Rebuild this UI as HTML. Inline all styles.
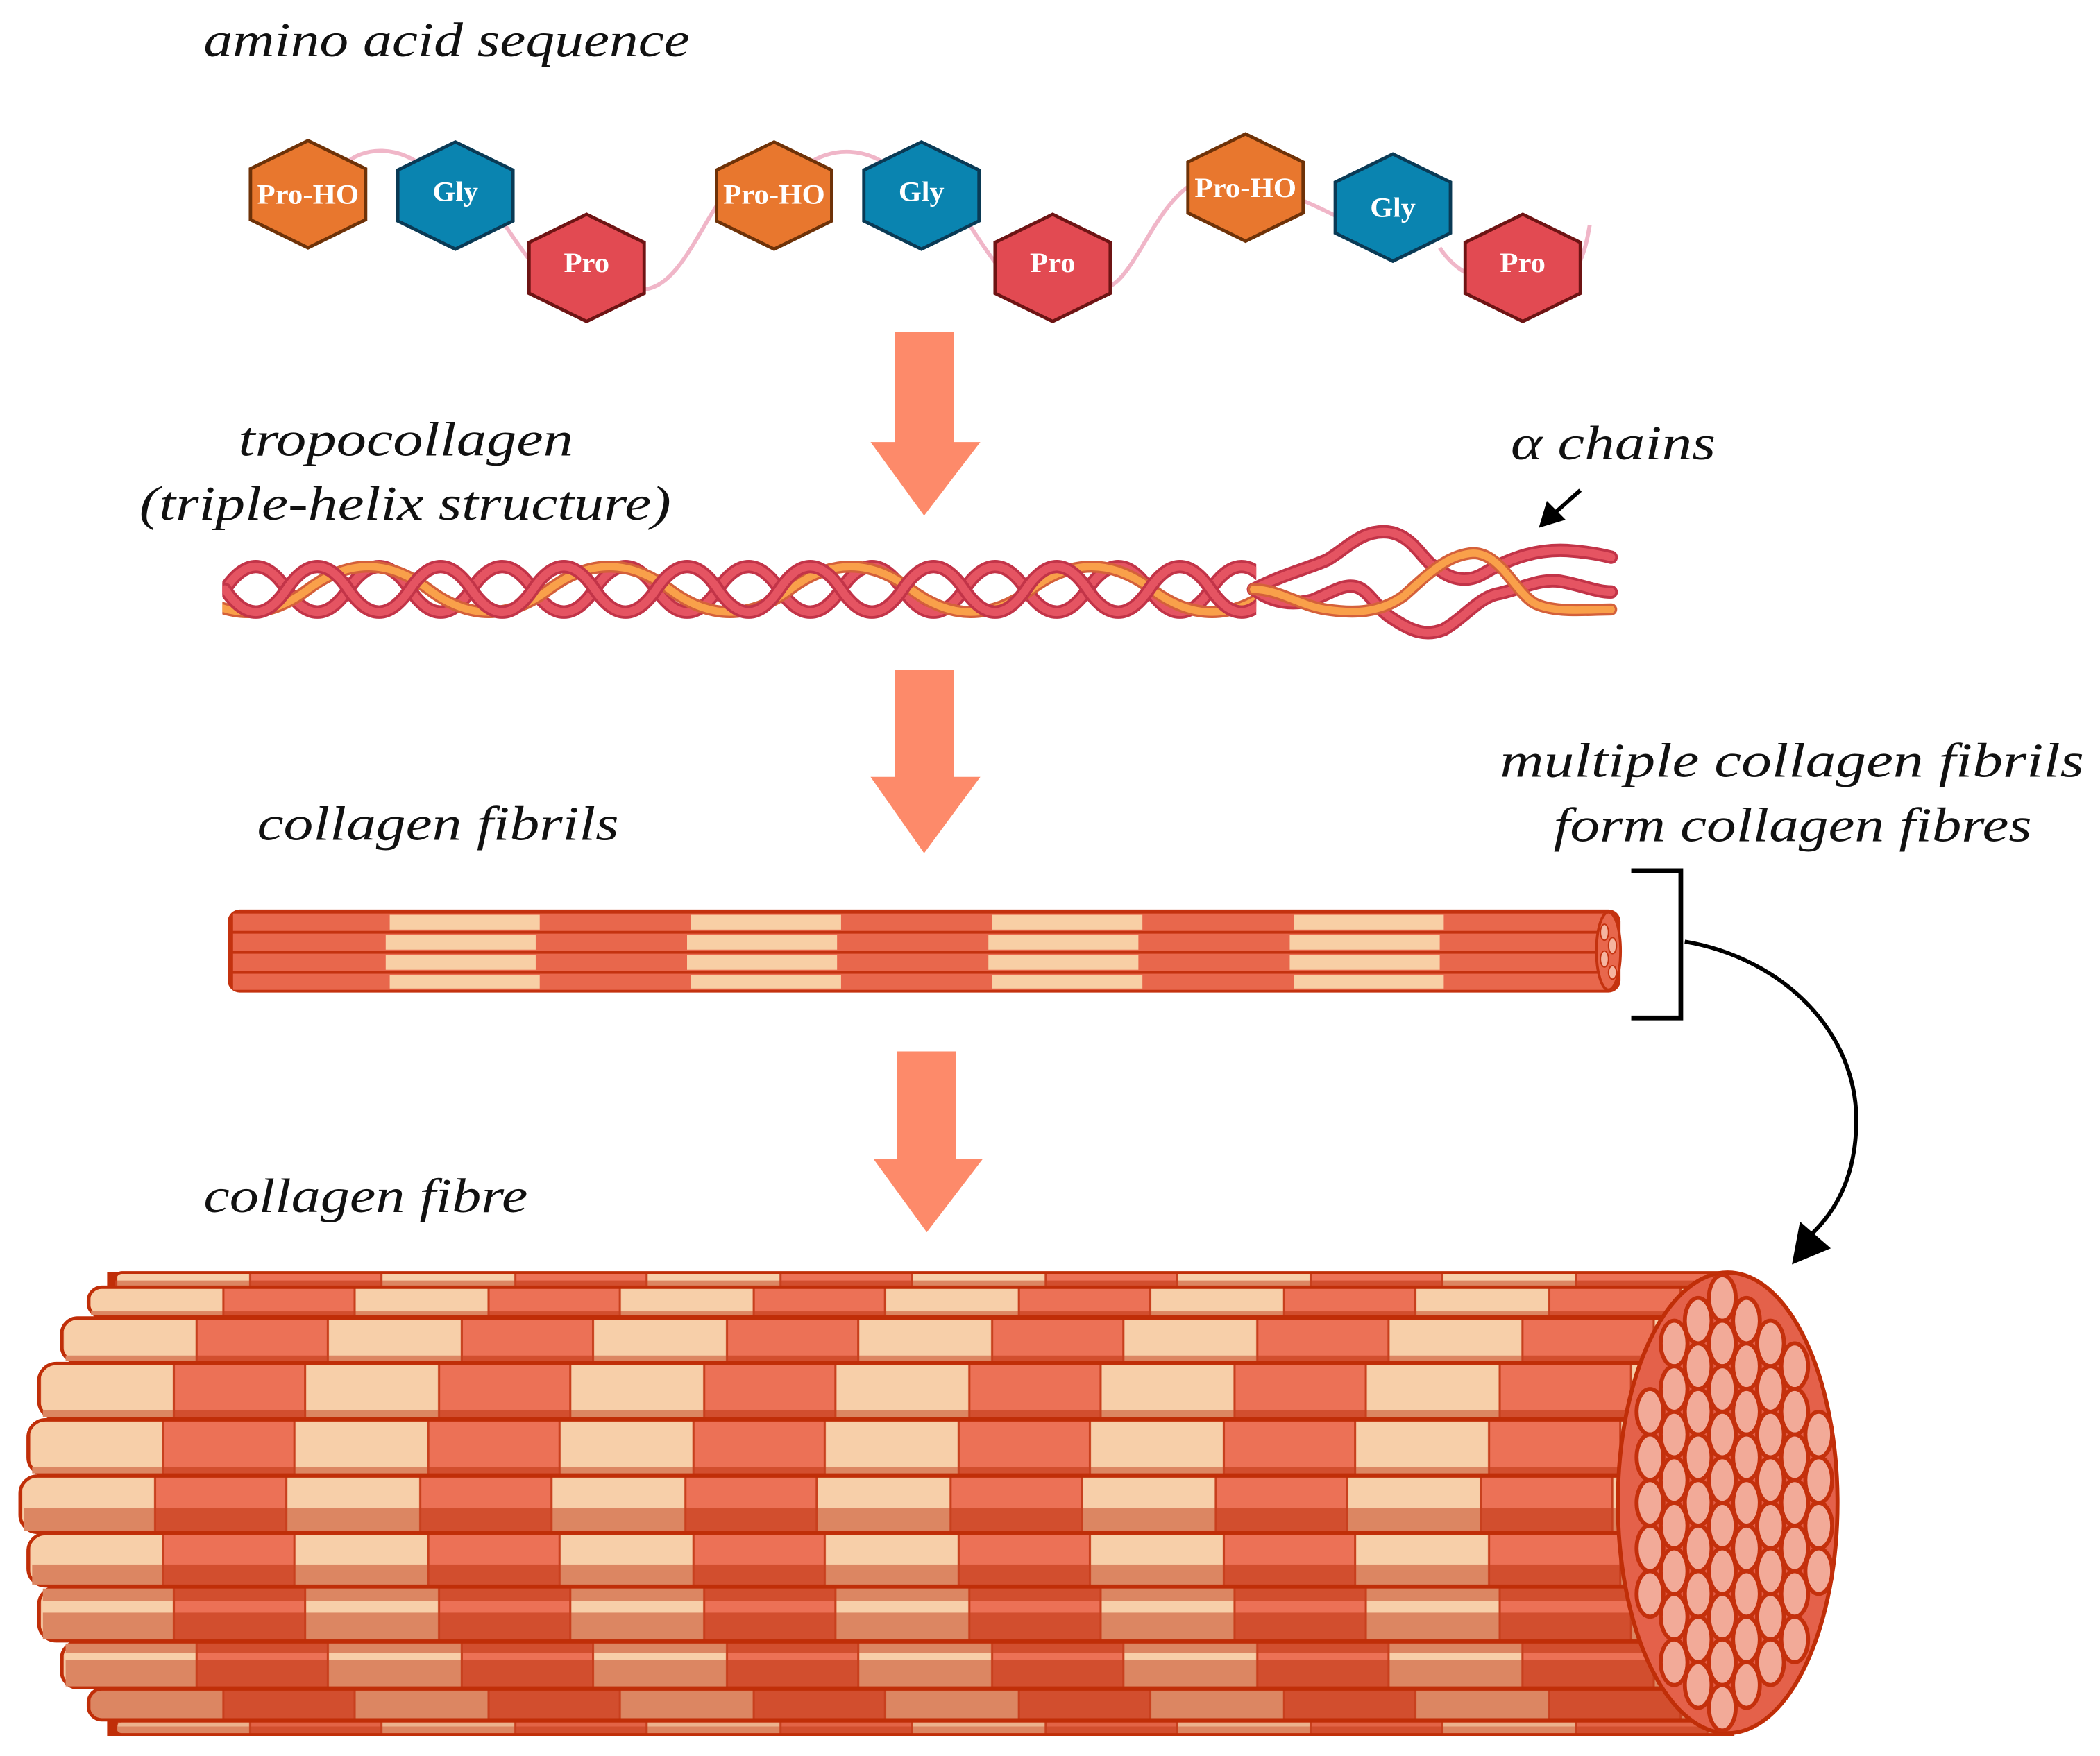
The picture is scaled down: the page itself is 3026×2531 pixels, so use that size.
<!DOCTYPE html>
<html><head><meta charset="utf-8"><style>
html,body{margin:0;padding:0;background:#fff;}
svg{display:block;}
text{font-family:"Liberation Serif",serif;}
.lbl{font-style:italic;font-size:36px;fill:#111;}
.hx{font-weight:bold;font-size:21px;fill:#fff;text-anchor:middle;}
</style></head><body>
<svg width="3026" height="2531" viewBox="0 0 1568 1311" preserveAspectRatio="none" xmlns="http://www.w3.org/2000/svg">
<defs>
<polygon id="hex" points="0,-40 43,-19 43,19 0,40 -43,19 -43,-19"/>
<pattern id="pl" width="198" height="2000" patternUnits="userSpaceOnUse">
<rect x="0" y="0" width="101" height="2000" fill="#f7cfa9"/>
<rect x="101" y="0" width="97" height="2000" fill="#ec7156"/>
<rect x="100" y="0" width="1.6" height="2000" fill="#c8401e"/>
<rect x="0" y="0" width="1.6" height="2000" fill="#c8401e"/>
</pattern>
<pattern id="pd" width="198" height="2000" patternUnits="userSpaceOnUse">
<rect x="0" y="0" width="101" height="2000" fill="#dc8662"/>
<rect x="101" y="0" width="97" height="2000" fill="#d24e2e"/>
<rect x="100" y="0" width="1.6" height="2000" fill="#c8401e"/>
<rect x="0" y="0" width="1.6" height="2000" fill="#c8401e"/>
</pattern>
<clipPath id="hc"><rect x="166" y="380" width="772" height="120"/></clipPath>
</defs>

<text class="lbl" x="152" y="42" textLength="363" lengthAdjust="spacingAndGlyphs">amino acid sequence</text>
<text class="lbl" x="178" y="340" textLength="250" lengthAdjust="spacingAndGlyphs">tropocollagen</text>
<text class="lbl" x="104" y="388" textLength="397" lengthAdjust="spacingAndGlyphs">(triple-helix structure)</text>
<text class="lbl" x="1128" y="343" textLength="153" lengthAdjust="spacingAndGlyphs">α chains</text>
<text class="lbl" x="1120" y="580" textLength="436" lengthAdjust="spacingAndGlyphs">multiple collagen fibrils</text>
<text class="lbl" x="1160" y="628" textLength="357" lengthAdjust="spacingAndGlyphs">form collagen fibres</text>
<text class="lbl" x="192" y="627" textLength="270" lengthAdjust="spacingAndGlyphs">collagen fibrils</text>
<text class="lbl" x="152" y="905" textLength="242" lengthAdjust="spacingAndGlyphs">collagen fibre</text>

<path d="M255,125 C270,108 300,108 320,128 M375,165 C385,180 392,190 400,200 M470,215 C505,225 520,170 545,140 M600,125 C620,108 650,110 668,128 M722,165 C735,185 742,195 750,205 M820,215 C845,220 860,150 895,135 M960,145 C975,150 985,155 1005,165 M1075,185 C1085,200 1095,205 1110,210 M1175,205 C1183,190 1185,180 1187,168" fill="none" stroke="#f0b6c8" stroke-width="3"/>
<g stroke-width="2.5">
<use href="#hex" x="230" y="145" fill="#e8772e" stroke="#6e3208"/>
<use href="#hex" x="340" y="146" fill="#0a84b0" stroke="#0a3a55"/>
<use href="#hex" x="438" y="200" fill="#e24a52" stroke="#6e1414"/>
<use href="#hex" x="578" y="146" fill="#e8772e" stroke="#6e3208"/>
<use href="#hex" x="688" y="146" fill="#0a84b0" stroke="#0a3a55"/>
<use href="#hex" x="786" y="200" fill="#e24a52" stroke="#6e1414"/>
<use href="#hex" x="930" y="140" fill="#e8772e" stroke="#6e3208"/>
<use href="#hex" x="1040" y="155" fill="#0a84b0" stroke="#0a3a55"/>
<use href="#hex" x="1137" y="200" fill="#e24a52" stroke="#6e1414"/>
</g>
<text class="hx" x="230" y="152" textLength="76" lengthAdjust="spacingAndGlyphs">Pro-HO</text>
<text class="hx" x="340" y="150" textLength="34" lengthAdjust="spacingAndGlyphs">Gly</text>
<text class="hx" x="438" y="203" textLength="34" lengthAdjust="spacingAndGlyphs">Pro</text>
<text class="hx" x="578" y="152" textLength="76" lengthAdjust="spacingAndGlyphs">Pro-HO</text>
<text class="hx" x="688" y="150" textLength="34" lengthAdjust="spacingAndGlyphs">Gly</text>
<text class="hx" x="786" y="203" textLength="34" lengthAdjust="spacingAndGlyphs">Pro</text>
<text class="hx" x="930" y="147" textLength="76" lengthAdjust="spacingAndGlyphs">Pro-HO</text>
<text class="hx" x="1040" y="162" textLength="34" lengthAdjust="spacingAndGlyphs">Gly</text>
<text class="hx" x="1137" y="203" textLength="34" lengthAdjust="spacingAndGlyphs">Pro</text>

<g fill="#fd8a6a">
<polygon points="668,248 712,248 712,330 732,330 690,385 650,330 668,330"/>
<polygon points="668,500 712,500 712,580 732,580 690,637 650,580 668,580"/>
<polygon points="670,785 714,785 714,865 734,865 692,920 652,865 670,865"/>
</g>

<line x1="1180" y1="366" x2="1162" y2="382" stroke="#000" stroke-width="3"/>
<polygon points="1149,394 1155,374 1169,388" fill="#000"/>

<g fill="none" stroke-linecap="round">
<g clip-path="url(#hc)">
<path d="M168,440 q23,-34 46,0 t46,0 t46,0 t46,0 t46,0 t46,0 t46,0 t46,0 t46,0 t46,0 t46,0 t46,0 t46,0 t46,0 t46,0 t46,0 t46,0 t46,0" stroke="#c23448" stroke-width="10"/>
<path d="M168,440 q23,-34 46,0 t46,0 t46,0 t46,0 t46,0 t46,0 t46,0 t46,0 t46,0 t46,0 t46,0 t46,0 t46,0 t46,0 t46,0 t46,0 t46,0 t46,0" stroke="#e55462" stroke-width="6"/>
<path d="M140,440 q45,34 90,0 t90,0 t90,0 t90,0 t90,0 t90,0 t90,0 t90,0 t90,0" stroke="#d4603a" stroke-width="9"/>
<path d="M140,440 q45,34 90,0 t90,0 t90,0 t90,0 t90,0 t90,0 t90,0 t90,0 t90,0" stroke="#f9a04a" stroke-width="5.5"/>
<path d="M168,440 q23,34 46,0 t46,0 t46,0 t46,0 t46,0 t46,0 t46,0 t46,0 t46,0 t46,0 t46,0 t46,0 t46,0 t46,0 t46,0 t46,0 t46,0 t46,0" stroke="#c23448" stroke-width="10"/>
<path d="M168,440 q23,34 46,0 t46,0 t46,0 t46,0 t46,0 t46,0 t46,0 t46,0 t46,0 t46,0 t46,0 t46,0 t46,0 t46,0 t46,0 t46,0 t46,0 t46,0" stroke="#e55462" stroke-width="6"/>
</g>
<path d="M936,440 C960,428 978,424 991,418 C1005,410 1015,397 1033,397 C1055,397 1062,420 1073,424 C1082,432 1095,436 1108,428 C1130,415 1150,410 1170,411 C1185,412 1195,414 1203,416" stroke="#c23448" stroke-width="10"/>
<path d="M936,440 C960,428 978,424 991,418 C1005,410 1015,397 1033,397 C1055,397 1062,420 1073,424 C1082,432 1095,436 1108,428 C1130,415 1150,410 1170,411 C1185,412 1195,414 1203,416" stroke="#e55462" stroke-width="6"/>
<path d="M936,440 C950,450 965,452 980,448 C995,442 1003,436 1012,438 C1022,440 1028,455 1040,462 C1055,472 1065,475 1078,470 C1095,460 1105,445 1120,443 C1140,438 1150,432 1165,434 C1182,437 1192,442 1203,442" stroke="#c23448" stroke-width="10"/>
<path d="M936,440 C950,450 965,452 980,448 C995,442 1003,436 1012,438 C1022,440 1028,455 1040,462 C1055,472 1065,475 1078,470 C1095,460 1105,445 1120,443 C1140,438 1150,432 1165,434 C1182,437 1192,442 1203,442" stroke="#e55462" stroke-width="6"/>
<path d="M936,440 C955,440 970,452 990,455 C1010,458 1030,458 1048,445 C1065,430 1080,414 1100,413 C1120,413 1130,440 1145,450 C1160,458 1185,455 1203,455" stroke="#d4603a" stroke-width="9"/>
<path d="M936,440 C955,440 970,452 990,455 C1010,458 1030,458 1048,445 C1065,430 1080,414 1100,413 C1120,413 1130,440 1145,450 C1160,458 1185,455 1203,455" stroke="#f9a04a" stroke-width="5.5"/>
</g>

<rect x="170" y="679" width="1040" height="62" rx="9" fill="#c4320f"/>
<g>
<rect x="174" y="682" width="1030" height="13" fill="#e8674c"/>
<rect x="174" y="697" width="1030" height="13" fill="#e8674c"/>
<rect x="174" y="712" width="1030" height="13" fill="#e8674c"/>
<rect x="174" y="727" width="1030" height="12" fill="#e8674c"/>
<g fill="#f8cfa5">
<rect x="291" y="683" width="112" height="11"/><rect x="288" y="698" width="112" height="11"/><rect x="288" y="713" width="112" height="11"/><rect x="291" y="728" width="112" height="10"/>
<rect x="516" y="683" width="112" height="11"/><rect x="513" y="698" width="112" height="11"/><rect x="513" y="713" width="112" height="11"/><rect x="516" y="728" width="112" height="10"/>
<rect x="741" y="683" width="112" height="11"/><rect x="738" y="698" width="112" height="11"/><rect x="738" y="713" width="112" height="11"/><rect x="741" y="728" width="112" height="10"/>
<rect x="966" y="683" width="112" height="11"/><rect x="963" y="698" width="112" height="11"/><rect x="963" y="713" width="112" height="11"/><rect x="966" y="728" width="112" height="10"/>
</g>
</g>
<ellipse cx="1201" cy="710" rx="9" ry="29" fill="#e8674c" stroke="#c4320f" stroke-width="2"/>
<g fill="#f5b5a0" stroke="#c4320f" stroke-width="1"><ellipse cx="1198" cy="696" rx="3" ry="6"/><ellipse cx="1204" cy="706" rx="3" ry="6"/><ellipse cx="1198" cy="716" rx="3" ry="6"/><ellipse cx="1204" cy="726" rx="3" ry="5"/></g>

<polyline points="1218,650 1255,650 1255,760 1218,760" fill="none" stroke="#000" stroke-width="3.5"/>
<path d="M1258,703 C1330,715 1388,770 1386,840 C1385,880 1370,905 1352,922" fill="none" stroke="#000" stroke-width="3"/>
<polygon points="1338,944 1344,912 1367,932" fill="#000"/>

<path d="M80,950 L1295,950 L1295,1296 L80,1296 Z" fill="#c02e08"/>
<g>
<g transform="translate(86,0)"><rect x="0" y="950" width="1204" height="11" rx="5" fill="url(#pl)" stroke="#c02e08" stroke-width="2"/><rect x="0" y="956" width="1204" height="5" fill="url(#pd)"/></g>
<g transform="translate(66,0)"><rect x="0" y="961" width="1212" height="22" rx="10" fill="url(#pl)" stroke="#c02e08" stroke-width="2.5"/><rect x="2" y="979" width="1208" height="3" fill="url(#pd)"/></g>
<g transform="translate(46,0)"><rect x="0" y="984" width="1214" height="33" rx="12" fill="url(#pl)" stroke="#c02e08" stroke-width="2.5"/><rect x="3" y="1012" width="1208" height="4" fill="url(#pd)"/></g>
<g transform="translate(29,0)"><rect x="0" y="1018" width="1215" height="41" rx="13" fill="url(#pl)" stroke="#c02e08" stroke-width="2.5"/><rect x="3" y="1053" width="1209" height="5" fill="url(#pd)"/></g>
<g transform="translate(21,0)"><rect x="0" y="1060" width="1212" height="41" rx="13" fill="url(#pl)" stroke="#c02e08" stroke-width="2.5"/><rect x="3" y="1095" width="1206" height="5" fill="url(#pd)"/></g>
<g transform="translate(15,0)"><rect x="0" y="1102" width="1212" height="42" rx="13" fill="url(#pl)" stroke="#c02e08" stroke-width="2.5"/><rect x="3" y="1126" width="1206" height="17" fill="url(#pd)"/></g>
<g transform="translate(21,0)"><rect x="0" y="1145" width="1206" height="39" rx="13" fill="url(#pl)" stroke="#c02e08" stroke-width="2.5"/><rect x="3" y="1168" width="1200" height="15" fill="url(#pd)"/></g>
<g transform="translate(29,0)"><rect x="0" y="1185" width="1213" height="40" rx="13" fill="url(#pl)" stroke="#c02e08" stroke-width="2.5"/><rect x="3" y="1186" width="1207" height="9" fill="url(#pd)"/><rect x="3" y="1204" width="1207" height="20" fill="url(#pd)"/></g>
<g transform="translate(46,0)"><rect x="0" y="1226" width="1210" height="34" rx="12" fill="url(#pl)" stroke="#c02e08" stroke-width="2.5"/><rect x="3" y="1227" width="1204" height="7" fill="url(#pd)"/><rect x="3" y="1239" width="1204" height="20" fill="url(#pd)"/></g>
<g transform="translate(66,0)"><rect x="0" y="1261" width="1210" height="23" rx="10" fill="url(#pd)" stroke="#c02e08" stroke-width="2.5"/></g>
<g transform="translate(86,0)"><rect x="0" y="1285" width="1204" height="10" rx="5" fill="url(#pd)" stroke="#c02e08" stroke-width="2"/><rect x="2" y="1286" width="1200" height="3" fill="url(#pl)" opacity="0.6"/></g>
</g>
<ellipse cx="1290" cy="1122" rx="82" ry="172" fill="#e4614a" stroke="#c02e08" stroke-width="3"/>
<g fill="#f2aa98" stroke="#c4300c" stroke-width="3">
<ellipse cx="1358" cy="1071" rx="10" ry="17"/><ellipse cx="1358" cy="1105" rx="10" ry="17"/><ellipse cx="1358" cy="1139" rx="10" ry="17"/><ellipse cx="1358" cy="1173" rx="10" ry="17"/>
<ellipse cx="1340" cy="1020" rx="10" ry="17"/><ellipse cx="1340" cy="1054" rx="10" ry="17"/><ellipse cx="1340" cy="1088" rx="10" ry="17"/><ellipse cx="1340" cy="1122" rx="10" ry="17"/><ellipse cx="1340" cy="1156" rx="10" ry="17"/><ellipse cx="1340" cy="1190" rx="10" ry="17"/><ellipse cx="1340" cy="1224" rx="10" ry="17"/>
<ellipse cx="1322" cy="1003" rx="10" ry="17"/><ellipse cx="1322" cy="1037" rx="10" ry="17"/><ellipse cx="1322" cy="1071" rx="10" ry="17"/><ellipse cx="1322" cy="1105" rx="10" ry="17"/><ellipse cx="1322" cy="1139" rx="10" ry="17"/><ellipse cx="1322" cy="1173" rx="10" ry="17"/><ellipse cx="1322" cy="1207" rx="10" ry="17"/><ellipse cx="1322" cy="1241" rx="10" ry="17"/>
<ellipse cx="1304" cy="986" rx="10" ry="17"/><ellipse cx="1304" cy="1020" rx="10" ry="17"/><ellipse cx="1304" cy="1054" rx="10" ry="17"/><ellipse cx="1304" cy="1088" rx="10" ry="17"/><ellipse cx="1304" cy="1122" rx="10" ry="17"/><ellipse cx="1304" cy="1156" rx="10" ry="17"/><ellipse cx="1304" cy="1190" rx="10" ry="17"/><ellipse cx="1304" cy="1224" rx="10" ry="17"/><ellipse cx="1304" cy="1258" rx="10" ry="17"/>
<ellipse cx="1286" cy="969" rx="10" ry="17"/><ellipse cx="1286" cy="1003" rx="10" ry="17"/><ellipse cx="1286" cy="1037" rx="10" ry="17"/><ellipse cx="1286" cy="1071" rx="10" ry="17"/><ellipse cx="1286" cy="1105" rx="10" ry="17"/><ellipse cx="1286" cy="1139" rx="10" ry="17"/><ellipse cx="1286" cy="1173" rx="10" ry="17"/><ellipse cx="1286" cy="1207" rx="10" ry="17"/><ellipse cx="1286" cy="1241" rx="10" ry="17"/><ellipse cx="1286" cy="1275" rx="10" ry="17"/>
<ellipse cx="1268" cy="986" rx="10" ry="17"/><ellipse cx="1268" cy="1020" rx="10" ry="17"/><ellipse cx="1268" cy="1054" rx="10" ry="17"/><ellipse cx="1268" cy="1088" rx="10" ry="17"/><ellipse cx="1268" cy="1122" rx="10" ry="17"/><ellipse cx="1268" cy="1156" rx="10" ry="17"/><ellipse cx="1268" cy="1190" rx="10" ry="17"/><ellipse cx="1268" cy="1224" rx="10" ry="17"/><ellipse cx="1268" cy="1258" rx="10" ry="17"/>
<ellipse cx="1250" cy="1003" rx="10" ry="17"/><ellipse cx="1250" cy="1037" rx="10" ry="17"/><ellipse cx="1250" cy="1071" rx="10" ry="17"/><ellipse cx="1250" cy="1105" rx="10" ry="17"/><ellipse cx="1250" cy="1139" rx="10" ry="17"/><ellipse cx="1250" cy="1173" rx="10" ry="17"/><ellipse cx="1250" cy="1207" rx="10" ry="17"/><ellipse cx="1250" cy="1241" rx="10" ry="17"/>
<ellipse cx="1232" cy="1054" rx="10" ry="17"/><ellipse cx="1232" cy="1088" rx="10" ry="17"/><ellipse cx="1232" cy="1122" rx="10" ry="17"/><ellipse cx="1232" cy="1156" rx="10" ry="17"/><ellipse cx="1232" cy="1190" rx="10" ry="17"/>
</g>
</svg>
</body></html>
